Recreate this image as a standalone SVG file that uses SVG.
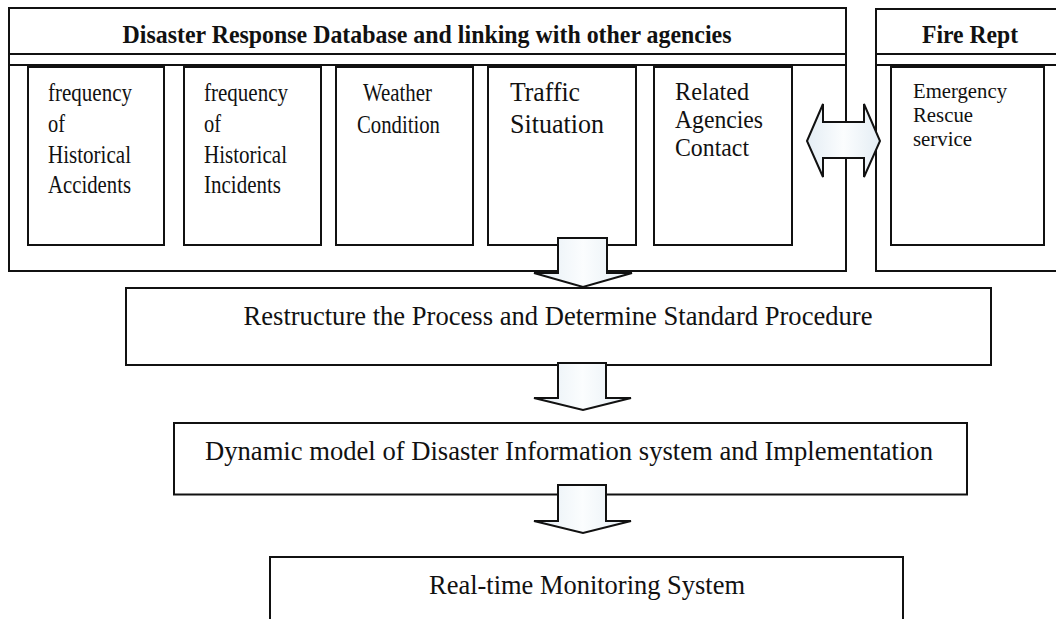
<svg xmlns="http://www.w3.org/2000/svg" width="1056" height="619" viewBox="0 0 1056 619">
<defs>
<linearGradient id="ag" x1="0" y1="0" x2="1" y2="0">
<stop offset="0" stop-color="#e4edf4"/>
<stop offset="0.5" stop-color="#fbfdfe"/>
<stop offset="1" stop-color="#e4edf4"/>
</linearGradient>
<style>
.box{fill:#fff;stroke:#111;stroke-width:2}
.ln{stroke:#111;stroke-width:2;fill:none}
.arr{fill:url(#ag);stroke:#111;stroke-width:2;stroke-linejoin:miter}
.t{font-family:"Liberation Serif","Times New Roman",serif;fill:#111}
.b{font-weight:bold;font-size:25px}
.s{font-size:25px}
.m{font-size:26.5px}
.f{font-size:20px}
</style>
</defs>
<rect width="1056" height="619" fill="#fff"/>

<g id="db">
<rect class="box" x="9" y="8" width="837" height="263"/>
<line class="ln" x1="9" y1="54" x2="846" y2="54"/>
<line class="ln" x1="9" y1="65" x2="846" y2="65"/>
<text class="t b" x="427" y="43" text-anchor="middle" textLength="609" lengthAdjust="spacingAndGlyphs">Disaster Response Database and linking with other agencies</text>
</g>

<g id="acc">
<rect class="box" x="28" y="67" width="136" height="178"/>
<text class="t s" x="48" y="101" textLength="84" lengthAdjust="spacingAndGlyphs">frequency</text>
<text class="t s" x="48" y="132" textLength="17" lengthAdjust="spacingAndGlyphs">of</text>
<text class="t s" x="48" y="163" textLength="83" lengthAdjust="spacingAndGlyphs">Historical</text>
<text class="t s" x="48" y="193" textLength="83" lengthAdjust="spacingAndGlyphs">Accidents</text>
</g>

<g id="inc">
<rect class="box" x="184" y="67" width="137" height="178"/>
<text class="t s" x="204" y="101" textLength="84" lengthAdjust="spacingAndGlyphs">frequency</text>
<text class="t s" x="204" y="132" textLength="17" lengthAdjust="spacingAndGlyphs">of</text>
<text class="t s" x="204" y="163" textLength="83" lengthAdjust="spacingAndGlyphs">Historical</text>
<text class="t s" x="204" y="193" textLength="77" lengthAdjust="spacingAndGlyphs">Incidents</text>
</g>

<g id="weather">
<rect class="box" x="336" y="67" width="137" height="178"/>
<text class="t s" x="363" y="101" textLength="69" lengthAdjust="spacingAndGlyphs">Weather</text>
<text class="t s" x="357" y="133" textLength="83" lengthAdjust="spacingAndGlyphs">Condition</text>
</g>

<g id="traffic">
<rect class="box" x="488" y="67" width="148" height="178"/>
<text class="t m" x="510" y="101" textLength="70" lengthAdjust="spacingAndGlyphs">Traffic</text>
<text class="t m" x="510" y="133" textLength="94" lengthAdjust="spacingAndGlyphs">Situation</text>
</g>

<g id="agencies">
<rect class="box" x="654" y="67" width="138" height="178"/>
<text class="t s" x="675" y="100" textLength="74" lengthAdjust="spacingAndGlyphs">Related</text>
<text class="t s" x="675" y="128" textLength="88" lengthAdjust="spacingAndGlyphs">Agencies</text>
<text class="t s" x="675" y="156" textLength="74" lengthAdjust="spacingAndGlyphs">Contact</text>
</g>

<g id="fire">
<rect class="box" x="876" y="9" width="200" height="262"/>
<line class="ln" x1="876" y1="54" x2="1060" y2="54"/>
<line class="ln" x1="876" y1="65" x2="1060" y2="65"/>
<text class="t b" x="922" y="43" textLength="96" lengthAdjust="spacingAndGlyphs">Fire Rept</text>
</g>

<g id="rescue">
<rect class="box" x="891" y="67" width="153" height="178"/>
<text class="t f" x="913" y="98" textLength="94" lengthAdjust="spacingAndGlyphs">Emergency</text>
<text class="t f" x="913" y="122" textLength="60" lengthAdjust="spacingAndGlyphs">Rescue</text>
<text class="t f" x="913" y="146" textLength="59" lengthAdjust="spacingAndGlyphs">service</text>
</g>

<g id="restructure">
<rect class="box" x="126" y="288" width="865" height="77"/>
<text class="t m" x="558" y="325" text-anchor="middle" textLength="629" lengthAdjust="spacingAndGlyphs">Restructure the Process and Determine Standard Procedure</text>
</g>

<g id="dynamic">
<rect class="box" x="174" y="423" width="793" height="71.5"/>
<text class="t m" x="569" y="460" text-anchor="middle" textLength="728" lengthAdjust="spacingAndGlyphs">Dynamic model of Disaster Information system and Implementation</text>
</g>

<g id="realtime">
<rect class="box" x="270" y="557" width="633" height="90"/>
<text class="t m" x="587" y="594" text-anchor="middle" textLength="316" lengthAdjust="spacingAndGlyphs">Real-time Monitoring System</text>
</g>

<g id="connectors">
<polygon class="arr" points="807,141 823,104 823,122 864,122 864,104 880,141 864,177 864,158 823,158 823,177"/>
<polygon class="arr" points="558,238 607,238 607,273 632,273 583,287 534,273 558,273"/>
<polygon class="arr" points="558,363 606,363 606,398 631,398 583,410 534,398 558,398"/>
<polygon class="arr" points="558,485 606,485 606,521 631,521 583,533 534,521 558,521"/>
</g>
</svg>
